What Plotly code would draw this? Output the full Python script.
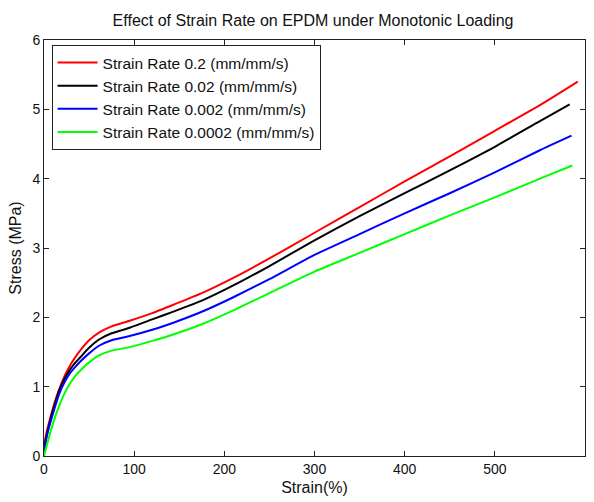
import plotly.graph_objects as go

# Stress-strain curves of EPDM under monotonic loading at four strain rates
strain_02 = [0, 3, 7, 12, 17, 23, 29, 35, 40, 50, 61, 75, 95, 120, 145, 175, 210, 250, 300, 350, 400, 450, 500, 550, 592]
stress_02 = [0.15, 0.35, 0.55, 0.78, 0.97, 1.16, 1.31, 1.43, 1.52, 1.67, 1.78, 1.87, 1.95, 2.06, 2.19, 2.35, 2.57, 2.85, 3.22, 3.59, 3.96, 4.32, 4.69, 5.06, 5.40]

strain_002 = [0, 3, 7, 12, 17, 23, 29, 35, 40, 50, 61, 75, 95, 120, 145, 175, 210, 250, 300, 350, 400, 450, 500, 550, 583]
stress_002 = [0.1, 0.3, 0.52, 0.75, 0.95, 1.12, 1.25, 1.35, 1.42, 1.56, 1.68, 1.77, 1.85, 1.97, 2.09, 2.24, 2.46, 2.74, 3.11, 3.46, 3.79, 4.12, 4.46, 4.83, 5.07]

strain_0002 = [0, 3, 7, 12, 17, 23, 29, 35, 40, 50, 61, 75, 95, 120, 145, 175, 210, 250, 300, 350, 400, 450, 500, 550, 585]
stress_0002 = [0.05, 0.28, 0.48, 0.70, 0.90, 1.07, 1.20, 1.29, 1.36, 1.48, 1.59, 1.67, 1.73, 1.82, 1.93, 2.08, 2.29, 2.55, 2.90, 3.20, 3.50, 3.79, 4.09, 4.41, 4.62]

strain_00002 = [0, 3, 7, 12, 17, 23, 29, 35, 40, 50, 61, 75, 95, 120, 145, 175, 210, 250, 300, 350, 400, 450, 500, 550, 586]
stress_00002 = [0.0, 0.15, 0.34, 0.55, 0.73, 0.91, 1.05, 1.16, 1.23, 1.35, 1.45, 1.52, 1.57, 1.66, 1.76, 1.90, 2.10, 2.35, 2.66, 2.93, 3.20, 3.47, 3.73, 4.00, 4.19]

series_names = [
    "Strain Rate 0.2 (mm/mm/s)",
    "Strain Rate 0.02 (mm/mm/s)",
    "Strain Rate 0.002 (mm/mm/s)",
    "Strain Rate 0.0002 (mm/mm/s)",
]
series_colors = ["#ff0000", "#000000", "#0000ff", "#00ff00"]
series_x = [strain_02, strain_002, strain_0002, strain_00002]
series_y = [stress_02, stress_002, stress_0002, stress_00002]

x_ticks = [0, 100, 200, 300, 400, 500, 600]
y_ticks = [0, 1, 2, 3, 4, 5, 6]

FONT = "Liberation Sans, Arial, sans-serif"

fig = go.Figure()
for name, color, xs, ys in zip(series_names, series_colors, series_x, series_y):
    fig.add_trace(go.Scatter(
        x=xs, y=ys, mode="lines", name=name,
        line=dict(color=color, width=2, shape="spline", smoothing=0.5),
    ))

axis_common = dict(
    showgrid=False, zeroline=False,
    showline=True, linecolor="#222222", linewidth=1, mirror="ticks",
    ticks="inside", ticklen=5, tickcolor="#222222",
    tickfont=dict(family=FONT, size=14, color="#111111"),
)

fig.update_layout(
    width=594, height=502,
    margin=dict(l=44, r=9, t=40, b=46),
    paper_bgcolor="white", plot_bgcolor="white",
    title=dict(
        text="Effect of Strain Rate on EPDM under Monotonic Loading",
        x=0.527, xanchor="center", y=0.96, yanchor="middle",
        font=dict(family=FONT, size=16, color="#111111"),
    ),
    xaxis=dict(
        range=[0, 600], tickvals=x_ticks, ticktext=[str(v) for v in x_ticks],
        title=dict(text="Strain(%)", font=dict(family=FONT, size=16, color="#111111"), standoff=6),
        **axis_common,
    ),
    yaxis=dict(
        range=[0, 6], tickvals=y_ticks, ticktext=[str(v) for v in y_ticks],
        title=dict(text="Stress (MPa)", font=dict(family=FONT, size=16, color="#111111"), standoff=6),
        **axis_common,
    ),
    legend=dict(
        x=0.014, y=0.988, xanchor="left", yanchor="top",
        bgcolor="white", bordercolor="#222222", borderwidth=1,
        font=dict(family=FONT, size=15.5, color="#111111"),
        tracegroupgap=0, itemwidth=40,
    ),
    showlegend=True,
)

fig.write_html("out.html")
